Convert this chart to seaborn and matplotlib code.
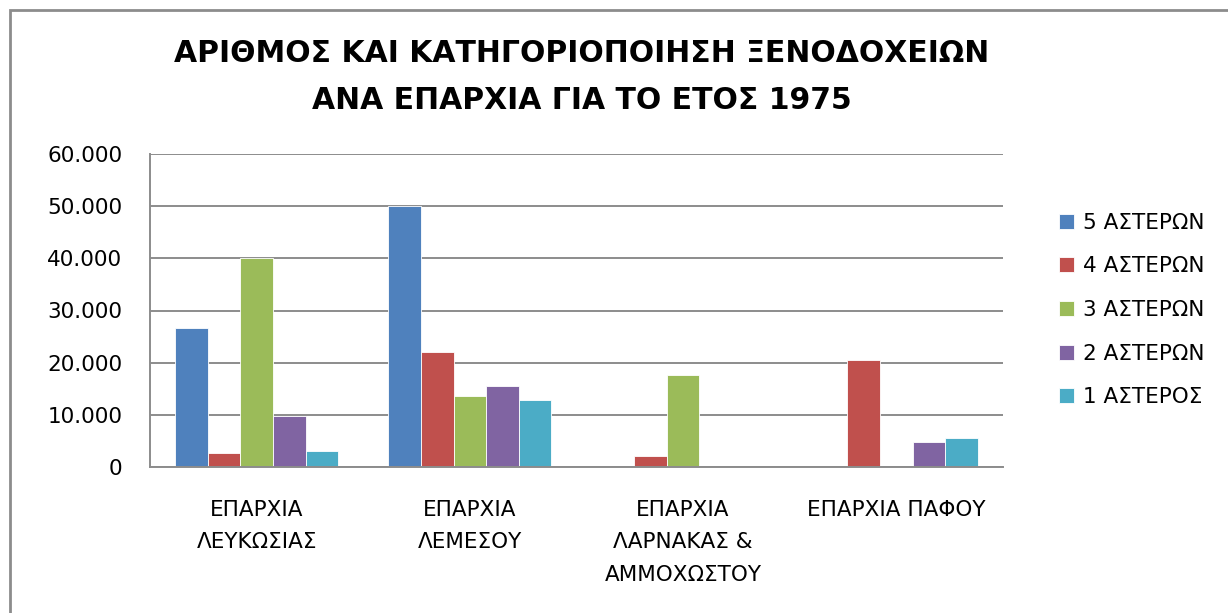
import numpy as np
import pandas as pd
import seaborn as sns
import matplotlib.pyplot as plt
from matplotlib.patches import Rectangle
from matplotlib.ticker import FuncFormatter

# data (number of beds / hotels per district, 1975)
districts = ['ΕΠΑΡΧΙΑ\nΛΕΥΚΩΣΙΑΣ', 'ΕΠΑΡΧΙΑ\nΛΕΜΕΣΟΥ', 'ΕΠΑΡΧΙΑ\nΛΑΡΝΑΚΑΣ &\nΑΜΜΟΧΩΣΤΟΥ', 'ΕΠΑΡΧΙΑ ΠΑΦΟΥ']
categories = ['5 ΑΣΤΕΡΩΝ', '4 ΑΣΤΕΡΩΝ', '3 ΑΣΤΕΡΩΝ', '2 ΑΣΤΕΡΩΝ', '1 ΑΣΤΕΡΟΣ']
five_star = [26600, 50000, np.nan, np.nan]
four_star = [2600, 22000, 2100, 20500]
three_star = [40000, 13600, 17600, np.nan]
two_star = [9700, 15600, np.nan, 4700]
one_star = [3000, 12900, np.nan, 5500]
colors = ['#4F81BD', '#C0504D', '#9BBB59', '#8064A2', '#4BACC6']

# long table for seaborn
rows = []
for cat, vals in zip(categories, [five_star, four_star, three_star, two_star, one_star]):
    for d, v in zip(districts, vals):
        rows.append({'district': d, 'category': cat, 'value': v})
df = pd.DataFrame(rows).dropna()

sns.set_style('white')
plt.rcParams['font.family'] = ['DejaVu Sans']
plt.rcParams['text.color'] = 'black'

fig = plt.figure(figsize=(12.28, 6.13), dpi=100)
ax = fig.add_axes([150 / 1228, 1 - 467 / 613, 853 / 1228, 313 / 613])

sns.barplot(data=df, x='district', y='value', hue='category', order=districts,
            hue_order=categories, palette=colors, width=0.765, ax=ax,
            errorbar=None, edgecolor='white', linewidth=0.6, saturation=1)

# axes styling like the excel chart
ax.set_ylim(0, 60000)
ax.set_yticks(np.arange(0, 60001, 10000))
ax.yaxis.set_major_formatter(FuncFormatter(lambda v, p: f'{v:,.0f}'.replace(',', '.')))
ax.grid(axis='y', color='#8c8c8c', linewidth=1.4)
ax.set_axisbelow(True)
for s in ['top', 'right']:
    ax.spines[s].set_visible(False)
for s in ['left', 'bottom']:
    ax.spines[s].set_color('#8c8c8c')
    ax.spines[s].set_linewidth(1.4)
ax.tick_params(axis='y', length=6, width=1.2, color='#8c8c8c', labelsize=15.5,
               labelcolor='black', pad=14)
ax.tick_params(axis='x', length=0, labelsize=15.5, labelcolor='black', pad=23.5)
for lbl in ax.get_xticklabels():
    lbl.set_verticalalignment('top')
    lbl.set_linespacing(1.8)
ax.set_xlabel('')
ax.set_ylabel('')

# legend on the right
handles, labels = ax.get_legend_handles_labels()
leg = ax.legend(handles, labels, loc='center left', bbox_to_anchor=(1040 / 1228, 1 - 310 / 613),
                bbox_transform=fig.transFigure, frameon=False, fontsize=15.5,
                handlelength=0.7, handleheight=0.7, handletextpad=0.4, labelspacing=1.1)
for t in leg.get_texts():
    t.set_color('black')

# title
fig.text(582 / 1228, 1 - 77 / 613, 'ΑΡΙΘΜΟΣ ΚΑΙ ΚΑΤΗΓΟΡΙΟΠΟΙΗΣΗ ΞΕΝΟΔΟΧΕΙΩΝ\nΑΝΑ ΕΠΑΡΧΙΑ ΓΙΑ ΤΟ ΕΤΟΣ 1975',
         ha='center', va='center', fontsize=21.5, fontweight='bold', linespacing=1.75,
         color='black')

# outer chart frame (cropped at right and bottom)
fig.patches.append(Rectangle((10 / 1228, -0.1), 1.2, 1 - 10 / 613 + 0.1, transform=fig.transFigure,
                             fill=False, edgecolor='#8c8c8c', linewidth=2))

fig.savefig('out.png', dpi=100)
